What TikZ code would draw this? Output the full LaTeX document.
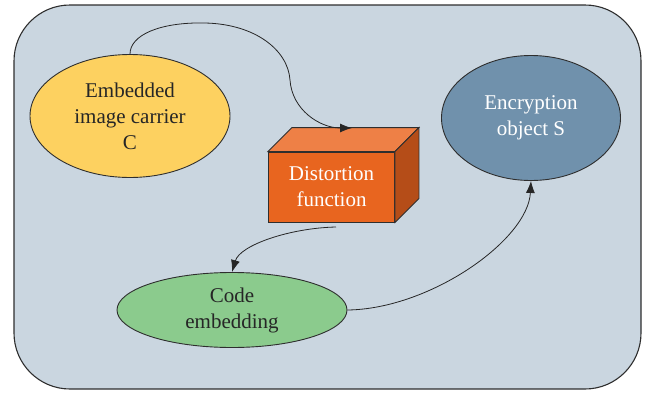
\documentclass[tikz,border=0pt]{standalone}
\usepackage{fontspec}
\setmainfont{Liberation Serif}
\usetikzlibrary{arrows.meta,calc,shapes.geometric}
\definecolor{panel}{HTML}{CAD6E0}
\definecolor{carrier}{HTML}{FDD160}
\definecolor{codegreen}{HTML}{8BCB8D}
\definecolor{target}{HTML}{7091AC}
\definecolor{boxfront}{HTML}{E8651F}
\definecolor{boxtop}{HTML}{EE8046}
\definecolor{boxside}{HTML}{B54D18}
\definecolor{edge}{HTML}{2E2E2E}
\begin{document}
\begin{tikzpicture}[x=1pt,y=-1pt,
  lbl/.style={font=\fontsize{21}{26}\selectfont, align=center, inner sep=0pt},
  oval/.style={ellipse, draw=edge, line width=0.9pt, lbl},
  flow/.style={draw=black!85, line width=0.8pt, -{Latex[length=12pt,width=9pt]}}
]
\useasboundingbox (0,0) rectangle (646,394);
% panel
\draw[fill=panel, draw=edge, line width=1.1pt, rounded corners=56pt] (14,5) rectangle (641,389);

% ellipses
\node[oval, fill=carrier, text=black!85, minimum width=200pt, minimum height=123pt] (yel) at (130,116) {Embedded\\image carrier\\C};
\node[oval, fill=target, text=white, minimum width=179pt, minimum height=125pt] (blu) at (531,118) {Encryption\\object S};
\node[oval, fill=codegreen, text=black!85, minimum width=230pt, minimum height=75pt] (grn) at (232,310) {Code\\embedding};

% cuboid
\node[rectangle, draw=edge, line width=0.9pt, fill=boxfront, text=white, lbl, minimum width=126pt, minimum height=70pt] (box) at (331.5,187) {Distortion\\function};
\draw[draw=edge, line width=0.9pt, fill=boxtop] (box.north west) -- ++(24,-24) -- ($(box.north east)+(24,-24)$) -- (box.north east) -- cycle;
\draw[draw=edge, line width=0.9pt, fill=boxside] (box.north east) -- ++(24,-24) -- ($(box.south east)+(24,-24)$) -- (box.south east) -- cycle;

\coordinate (boxin) at (352,128);
\coordinate (boxout) at (336,227);

% connectors
\draw[flow] (yel.north) .. controls (130,35) and (160,22) .. (205,23)
  .. controls (255,24) and (288,50) .. (290,80)
  .. controls (292,110) and (320,128) .. (boxin);
\draw[flow] (boxout) .. controls (290,228) and (240,245) .. (grn.north);
\draw[flow] (grn.east) .. controls (430,309) and (528,240) .. (blu.south);
\end{tikzpicture}
\end{document}
